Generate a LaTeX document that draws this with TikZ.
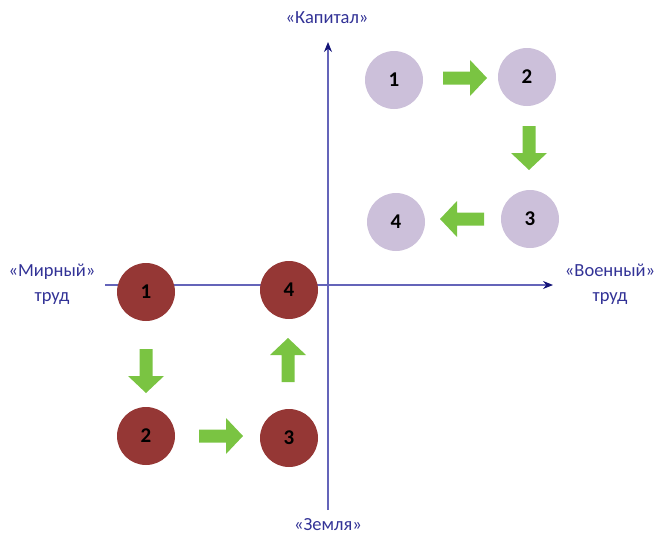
\documentclass[tikz,border=0pt]{standalone}
\usepackage{fontspec}
\setmainfont{Carlito}
\usetikzlibrary{arrows.meta}
\definecolor{axiscol}{RGB}{100,100,185}
\definecolor{tipcol}{RGB}{20,20,120}
\definecolor{labcol}{RGB}{50,50,150}
\definecolor{lilac}{RGB}{204,192,218}
\definecolor{brick}{RGB}{149,55,53}
\definecolor{leaf}{RGB}{122,196,66}
\begin{document}
\begin{tikzpicture}[x=1pt,y=-1pt,
  axisline/.style={draw=axiscol,line width=1.1pt,-{Stealth[length=10pt,width=8pt,color=tipcol]}},
  axislab/.style={text=labcol,font=\fontsize{18.5}{25}\selectfont,align=center,inner sep=0pt},
  lilacdot/.style={circle,fill=lilac,minimum size=58pt,inner sep=0pt,font=\fontsize{21}{22}\selectfont\bfseries},
  brickdot/.style={circle,fill=brick,minimum size=58pt,inner sep=0pt,font=\fontsize{21}{22}\selectfont\bfseries},
  blockarrow/.pic={\fill[leaf] (-22,-6.5) -- (5,-6.5) -- (5,-18) -- (22,0) -- (5,18) -- (5,6.5) -- (-22,6.5) -- cycle;}]
\useasboundingbox (0,0) rectangle (656,536);
% axes
\coordinate (xs) at (105,285);
\coordinate (xe) at (553,285);
\coordinate (ys) at (328,510);
\coordinate (ye) at (328,42);
\draw[axisline] (xs) -- (xe);
\draw[axisline] (ys) -- (ye);
% axis labels
\node[axislab] (kap) at (327,18) {«Капитал»};
\node[axislab] (zem) at (328,525) {«Земля»};
\node[axislab] (mir) at (52,284) {«Мирный»\\труд};
\node[axislab] (voe) at (610,284) {«Военный»\\труд};
% lilac circles
\node[lilacdot] (p1) at (394,80) {1};
\node[lilacdot] (p2) at (527,77) {2};
\node[lilacdot] (p3) at (530,219) {3};
\node[lilacdot] (p4) at (396,222) {4};
% brick circles
\node[brickdot] (r1) at (146,292) {1};
\node[brickdot] (r4) at (289,290) {4};
\node[brickdot] (r2) at (146,436) {2};
\node[brickdot] (r3) at (289,438) {3};
% green block arrows
\pic (a12) at (465,78) {blockarrow};
\pic[rotate=-90] (a23) at (529,148) {blockarrow};
\pic[rotate=180] (a34) at (462,219) {blockarrow};
\pic[rotate=-90] (b12) at (146,371) {blockarrow};
\pic (b23) at (221,436) {blockarrow};
\pic[rotate=90] (b34) at (288,360) {blockarrow};
\end{tikzpicture}
\end{document}
